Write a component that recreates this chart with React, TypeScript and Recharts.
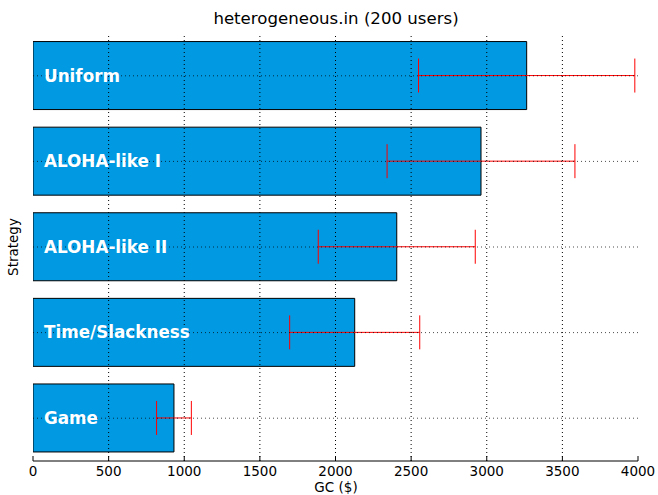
import React from 'react';
import { BarChart, Bar, XAxis, YAxis, ErrorBar, ReferenceLine, LabelList } from 'recharts';

const categories = ['Uniform', 'ALOHA-like I', 'ALOHA-like II', 'Time/Slackness', 'Game'];
const gcValues = [3264, 2962, 2405, 2127, 932];
const gcErrors = [715, 621, 519, 430, 115];
const xTicks = [0, 500, 1000, 1500, 2000, 2500, 3000, 3500, 4000];

const data = categories.map((name, i) => ({ name, gc: gcValues[i], err: gcErrors[i] }));

const FONT = 'DejaVu Sans, sans-serif';

const BottomTick = (props: any) => {
  const { x, payload } = props;
  return (
    <text x={x} y={476} textAnchor="middle" fill="#000" fontSize={13.5} fontFamily={FONT}>
      {payload.value}
    </text>
  );
};

export default function App() {
  return (
    <div style={{ position: 'absolute', left: 0, top: 0, width: 658, height: 495, background: '#fff', fontFamily: FONT }}>
      <BarChart
        width={658}
        height={495}
        data={data}
        layout="vertical"
        margin={{ top: 33, right: 20, bottom: 0, left: 33 }}
        barCategoryGap="10%"
      >
        <XAxis
          type="number"
          dataKey="gc"
          domain={[0, 4000]}
          ticks={xTicks}
          height={34}
          axisLine={{ stroke: '#000' }}
          tickLine={{ stroke: '#000' }}
          tickSize={-5}
          tick={<BottomTick />}
          allowDataOverflow
        />
        <XAxis
          xAxisId="top"
          orientation="top"
          type="number"
          domain={[0, 4000]}
          ticks={xTicks}
          height={0}
          axisLine={{ stroke: '#000' }}
          tickLine={{ stroke: '#000' }}
          tickSize={-5}
          tickFormatter={() => ''}
        />
        <YAxis
          type="category"
          dataKey="name"
          width={0}
          axisLine={{ stroke: '#000' }}
          tickLine={{ stroke: '#000' }}
          tickSize={-5}
          tickFormatter={() => ''}
        />
        <YAxis
          yAxisId="right"
          orientation="right"
          type="category"
          dataKey="name"
          width={0}
          axisLine={{ stroke: '#000' }}
          tickLine={{ stroke: '#000' }}
          tickSize={-5}
          tickFormatter={() => ''}
        />
        <Bar dataKey="gc" fill="#0099e2" stroke="#000" strokeWidth={1} isAnimationActive={false}>
          <LabelList
            dataKey="name"
            position="insideLeft"
            offset={11}
            fill="#fff"
            style={{ fontWeight: 'bold', fontSize: 16.8, fontFamily: FONT }}
          />
          <ErrorBar dataKey="err" direction="x" width={17} stroke="#ff0000" strokeWidth={1} />
        </Bar>
        {xTicks.slice(1, -1).map((t) => (
          <ReferenceLine key={'x' + t} x={t} stroke="#000" strokeDasharray="1 3" strokeWidth={1} />
        ))}
        {categories.map((c) => (
          <ReferenceLine key={'y' + c} y={c} stroke="#000" strokeDasharray="1 3" strokeWidth={1} strokeOpacity={0.7} />
        ))}
      </BarChart>
      <svg width={658} height={495} style={{ position: 'absolute', left: 0, top: 0, pointerEvents: 'none' }}>
        <text x={336} y={24} textAnchor="middle" fontSize={16.6} fontFamily={FONT} fill="#000">
          heterogeneous.in (200 users)
        </text>
        <text x={336} y={491.5} textAnchor="middle" fontSize={13.5} fontFamily={FONT} fill="#000">
          GC ($)
        </text>
        <text x={17.5} y={247} textAnchor="middle" fontSize={13.5} fontFamily={FONT} fill="#000" transform="rotate(-90 17.5 247)">
          Strategy
        </text>
      </svg>
    </div>
  );
}
